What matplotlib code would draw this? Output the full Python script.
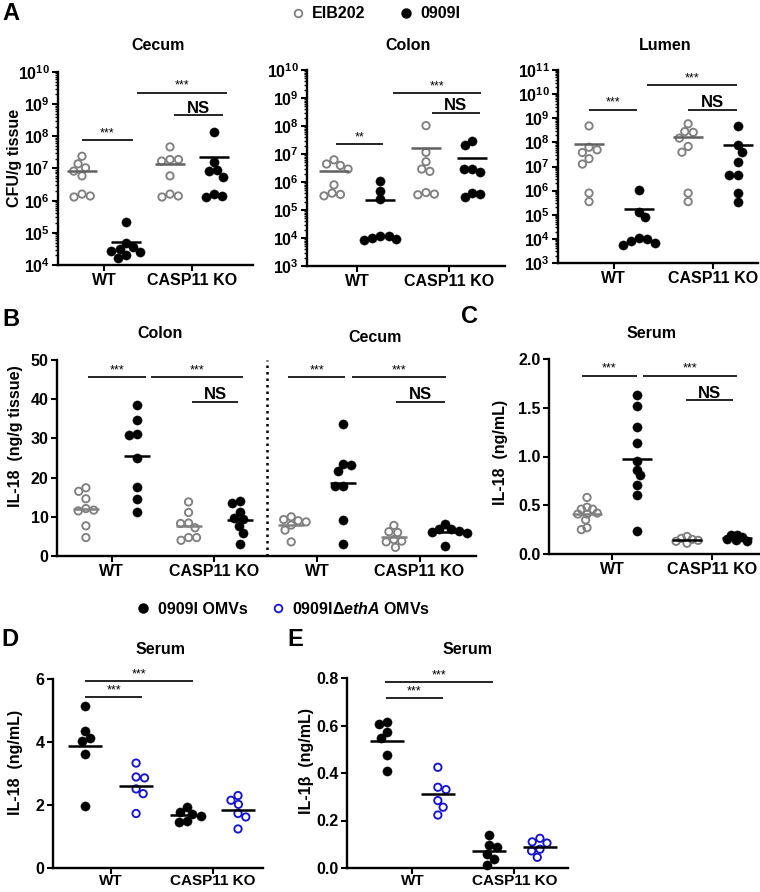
import numpy as np
import matplotlib
matplotlib.use('Agg')
import matplotlib.pyplot as plt
from matplotlib.lines import Line2D
from matplotlib.ticker import FixedLocator, NullFormatter, LogLocator

plt.rcParams['font.family'] = ['Liberation Sans', 'DejaVu Sans']
plt.rcParams['font.weight'] = 'bold'
plt.rcParams['mathtext.fontset'] = 'custom'
plt.rcParams['mathtext.rm'] = 'Liberation Sans:bold'
plt.rcParams['mathtext.bf'] = 'Liberation Sans:bold'
plt.rcParams['mathtext.it'] = 'Liberation Sans:italic:bold'

# ---------------- DATA ----------------
genotypes = ['WT', 'CASP11 KO']
strains_A = ['EIB202', '0909I']
strains_D = ['0909I OMVs', r'0909I$\mathit{\Delta ethA}$ OMVs']

# Panel A: CFU/g tissue
cecum_wt_eib = [2.4e7, 1.4e7, 1.05e7, 8.3e6, 5.9e6, 1.6e6, 1.3e6, 1.4e6]
cecum_wt_0909 = [2.1e5, 4.8e4, 3.5e4, 3.2e4, 2.8e4, 2.5e4, 2.0e4, 1.6e4]
cecum_ko_eib = [4.7e7, 1.9e7, 1.7e7, 1.9e7, 5.9e6, 1.6e6, 1.3e6, 1.4e6]
cecum_ko_0909 = [1.38e8, 1.55e7, 8.5e6, 8.9e6, 5.5e6, 1.6e6, 1.26e6, 1.4e6]

colon_wt_eib = [4.4e6, 2.9e6, 3.9e6, 6.2e6, 7.9e5, 4.0e5, 3.2e5, 3.6e5]
colon_wt_0909 = [1.1e6, 4.9e5, 2.4e5, 1.2e4, 1.0e4, 8.5e3, 9.0e3, 1.2e4]
colon_ko_eib = [1.03e8, 1.15e7, 5.3e6, 2.9e6, 2.4e6, 4.2e5, 3.5e5, 3.7e5]
colon_ko_0909 = [3.0e7, 2.05e7, 2.9e6, 2.9e6, 2.2e6, 4.2e5, 3.0e5, 3.6e5]

lumen_wt_eib = [4.8e8, 6.3e7, 3.8e7, 4.9e7, 2.1e7, 1.26e7, 7.9e5, 3.5e5]
lumen_wt_0909 = [1.07e6, 1.3e5, 8.0e4, 1.07e4, 7.9e3, 5.8e3, 6.8e3, 9.8e3]
lumen_ko_eib = [5.9e8, 2.8e8, 2.6e8, 1.5e8, 6.8e7, 3.9e7, 7.9e5, 3.5e5]
lumen_ko_0909 = [4.8e8, 7.9e7, 3.9e7, 1.6e7, 4.3e6, 4.3e6, 7.9e5, 3.5e5]

# Panel B: IL-18 (ng/g tissue)
b_colon_wt_eib = [16.5, 17.4, 14.6, 12.1, 11.5, 11.7, 7.7, 4.7]
b_colon_wt_0909 = [38.5, 34.8, 31.1, 30.8, 25.0, 17.6, 14.5, 11.2]
b_colon_ko_eib = [13.8, 11.1, 8.3, 8.4, 7.2, 4.7, 4.0, 4.7]
b_colon_ko_0909 = [14.0, 13.5, 11.3, 9.8, 9.4, 7.6, 5.8, 3.0]
b_cecum_wt_eib = [10.0, 9.3, 9.0, 8.7, 7.9, 6.6, 3.6]
b_cecum_wt_0909 = [33.6, 23.3, 23.4, 21.7, 17.8, 17.9, 9.1, 3.0]
b_cecum_ko_eib = [7.8, 6.2, 6.0, 4.2, 3.8, 3.6, 2.2]
b_cecum_ko_0909 = [8.2, 7.0, 6.8, 6.4, 6.0, 5.8, 2.6]

# Panel C: serum IL-18 (ng/mL)
c_wt_eib = [0.58, 0.48, 0.46, 0.46, 0.42, 0.41, 0.41, 0.35, 0.25, 0.27]
c_wt_0909 = [1.63, 1.52, 1.30, 1.135, 0.95, 0.86, 0.81, 0.71, 0.61, 0.24]
c_ko_eib = [0.18, 0.16, 0.15, 0.14, 0.13, 0.11]
c_ko_0909 = [0.19, 0.17, 0.15, 0.13, 0.14, 0.20]

# Panel D: serum IL-18 (ng/mL)
d_wt_0909 = [5.13, 4.36, 4.13, 4.03, 3.62, 1.97]
d_wt_deth = [3.33, 2.86, 2.89, 2.51, 2.36, 1.73]
d_ko_0909 = [1.94, 1.77, 1.73, 1.65, 1.45, 1.50]
d_ko_deth = [2.30, 2.15, 2.02, 1.73, 1.62, 1.24]

# Panel E: serum IL-1beta (ng/mL)
e_wt_0909 = [0.613, 0.605, 0.571, 0.546, 0.474, 0.407]
e_wt_deth = [0.424, 0.330, 0.340, 0.284, 0.256, 0.223]
e_ko_0909 = [0.139, 0.089, 0.096, 0.061, 0.038, 0.014]
e_ko_deth = [0.125, 0.110, 0.105, 0.079, 0.072, 0.045]

# ---------------- LAYOUT ----------------
W, H = 760, 892
fig = plt.figure(figsize=(W / 100, H / 100), dpi=100)

FS = 11.5
GREY = '#808080'
BLUE = '#1414d2'
OPEN_GREY = dict(s=28, facecolors='none', edgecolors=GREY, linewidths=1.35)
FILL_BLACK = dict(s=44, facecolors='black', edgecolors='black', linewidths=0.3)
OPEN_BLUE = dict(s=28, facecolors='none', edgecolors=BLUE, linewidths=1.35)


def add_ax(l, t, r, b):
    return fig.add_axes([l / W, 1 - b / H, (r - l) / W, (b - t) / H])


def style(ax, xpad=2):
    for s in ['top', 'right']:
        ax.spines[s].set_visible(False)
    for s in ['left', 'bottom']:
        ax.spines[s].set_linewidth(1.7)
    ax.tick_params(which='major', length=4, width=1.5, direction='out',
                   labelsize=FS, pad=2)
    ax.tick_params(axis='x', which='major', pad=xpad)
    ax.tick_params(which='minor', length=2.2, width=1.0, direction='out')


def px_per_data_x(ax):
    x0, x1 = ax.get_xlim()
    return ax.get_window_extent().width / (x1 - x0)


def swarm(ax, pos, vals, d=8.5):
    pts = ax.transData.transform(np.column_stack([np.full(len(vals), pos), vals]))
    ypx = pts[:, 1]
    order = np.argsort(-ypx, kind='stable')
    placed = []
    offs = np.zeros(len(vals))
    for k, i in enumerate(order):
        y = ypx[i]
        cands = [0.0]
        for xo, yo in placed:
            dy = abs(y - yo)
            if dy < d:
                dx = np.sqrt(d * d - dy * dy)
                cands += [xo + dx, xo - dx]
        cands = sorted(cands, key=lambda c: (round(abs(c), 3), c if k % 2 else -c))
        for c in cands:
            if all((c - xo) ** 2 + (y - yo) ** 2 >= d * d - 1e-6 for xo, yo in placed):
                offs[i] = c
                placed.append((c, y))
                break
    return offs / px_per_data_x(ax)


def plot_groups(ax, groups, styles, line_colors, hw_px=15, d=8.5):
    hw = hw_px / px_per_data_x(ax)
    for pos, (vals, st, lc) in enumerate(zip(groups, styles, line_colors)):
        vals = np.asarray(vals, dtype=float)
        offs = swarm(ax, pos, vals, d)
        ax.scatter(pos + offs, vals, zorder=3, clip_on=False, **st)
        m = vals.mean()
        ax.plot([pos - hw, pos + hw], [m, m], color=lc, lw=1.8, zorder=4,
                solid_capstyle='butt')


def sig(ax, x1, x2, y, label):
    ax.plot([x1, x2], [y, y], color='black', lw=1.2, clip_on=False,
            solid_capstyle='butt')
    if label == 'NS':
        ax.annotate(label, ((x1 + x2) / 2, y), xytext=(0, -0.5),
                    textcoords='offset points', ha='center', va='bottom',
                    fontsize=12, fontweight='bold', annotation_clip=False)
    else:
        ax.annotate(label, ((x1 + x2) / 2, y), xytext=(0, 0.5),
                    textcoords='offset points', ha='center', va='bottom',
                    fontsize=9, fontweight='normal', annotation_clip=False)


def ftext(x, y, s, **kw):
    return fig.text(x / W, 1 - y / H, s, **kw)


def log_axis(ax, lo, hi):
    ax.set_yscale('log')
    ax.set_ylim(10.0 ** lo, 10.0 ** hi)
    ax.yaxis.set_major_locator(FixedLocator([10.0 ** k for k in range(lo, hi + 1)]))
    ax.set_yticklabels([r'$\mathbf{10^{%d}}$' % k for k in range(lo, hi + 1)],
                       fontsize=FS)
    ax.yaxis.set_minor_locator(LogLocator(base=10, subs=np.arange(2, 10), numticks=100))
    ax.yaxis.set_minor_formatter(NullFormatter())


def title(x, y, s):
    ftext(x, y, s, ha='center', va='center', fontsize=FS, fontweight='bold')


def ylab(x, y, s):
    ftext(x, y, s, rotation=90, ha='center', va='center', fontsize=FS, fontweight='bold')


A_styles = [OPEN_GREY, FILL_BLACK, OPEN_GREY, FILL_BLACK]
A_lines = ['#606060', 'black', '#606060', 'black']

# ---- Panel A: Cecum ----
ax = add_ax(58, 72, 253, 265)
style(ax)
ax.set_xlim(-0.545, 3.886)
log_axis(ax, 4, 10)
ax.set_xticks([0.5, 2.5], genotypes)
plot_groups(ax, [cecum_wt_eib, cecum_wt_0909, cecum_ko_eib, cecum_ko_0909], A_styles, A_lines)
sig(ax, 0.0, 1.15, 7.6e7, '***')
sig(ax, 1.25, 3.3, 2.3e9, '***')
sig(ax, 2.1, 3.2, 4.6e8, 'NS')
h_open = Line2D([], [], marker='o', ls='none', mfc='none', mec=GREY, mew=1.3, ms=5.5)
h_fill = Line2D([], [], marker='o', ls='none', mfc='black', mec='black', ms=6.5)

# ---- Panel A: Colon ----
ax = add_ax(307, 70, 505, 266)
style(ax)
ax.set_xlim(-0.587, 3.717)
log_axis(ax, 3, 10)
ax.set_xticks([0.5, 2.5], genotypes)
plot_groups(ax, [colon_wt_eib, colon_wt_0909, colon_ko_eib, colon_ko_0909], A_styles, A_lines)
sig(ax, 0.04, 1.07, 2.3e7, '**')
sig(ax, 1.28, 3.2, 1.55e9, '***')
sig(ax, 2.13, 3.17, 3.0e8, 'NS')

# ---- Panel A: Lumen ----
ax = add_ax(558, 70, 758, 263)
style(ax)
ax.set_xlim(-0.626, 3.41)
log_axis(ax, 3, 11)
ax.set_xticks([0.5, 2.5], genotypes)
plot_groups(ax, [lumen_wt_eib, lumen_wt_0909, lumen_ko_eib, lumen_ko_0909], A_styles, A_lines)
sig(ax, 0.0, 0.97, 2.3e9, '***')
sig(ax, 1.17, 2.99, 2.4e10, '***')
sig(ax, 2.0, 2.99, 2.3e9, 'NS')

fig.legend([h_open, h_fill], strains_A, ncol=2, frameon=False, loc='center',
           bbox_to_anchor=(375 / W, 1 - 14 / H), handletextpad=0.4,
           columnspacing=2.0, handlelength=1.0, prop=dict(weight='bold', size=FS))

title(158, 45, 'Cecum')
title(408, 45, 'Colon')
title(665, 45, 'Lumen')
ylab(15, 158, 'CFU/g tissue')

# ---- Panel B ----
ax = add_ax(57, 360, 476, 556)
style(ax)
ax.set_xlim(-0.563, 7.6)
ax.set_ylim(0, 50)
ax.set_yticks([0, 10, 20, 30, 40, 50])
ax.set_yticklabels(['0', '10', '20', '30', '40', '50'], fontsize=FS)
ax.set_xticks([0.5, 2.5, 4.5, 6.5], genotypes * 2)
plot_groups(ax, [b_colon_wt_eib, b_colon_wt_0909, b_colon_ko_eib, b_colon_ko_0909,
                 b_cecum_wt_eib, b_cecum_wt_0909, b_cecum_ko_eib, b_cecum_ko_0909],
            A_styles * 2, [GREY, 'black', GREY, 'black'] * 2, hw_px=13, d=8.0)
ax.axvline(3.53, color='black', ls=(0, (1, 1.6)), lw=1.8)
sig(ax, 0.04, 1.17, 45.6, '***')
sig(ax, 1.26, 3.07, 45.6, '***')
sig(ax, 2.06, 2.97, 39.4, 'NS')
sig(ax, 3.94, 5.05, 45.6, '***')
sig(ax, 5.18, 7.01, 45.6, '***')
sig(ax, 6.04, 6.99, 39.4, 'NS')
title(160, 333, 'Colon')
title(375, 337, 'Cecum')
ylab(16, 436, 'IL-18  (ng/g tissue)')

# ---- Panel C ----
ax = add_ax(549, 359, 760, 554)
style(ax)
ax.set_xlim(-0.76, 3.46)
ax.set_ylim(0, 2.0)
ax.set_yticks([0, 0.5, 1.0, 1.5, 2.0])
ax.set_yticklabels(['0.0', '0.5', '1.0', '1.5', '2.0'], fontsize=FS)
ax.set_xticks([0.5, 2.5], genotypes)
plot_groups(ax, [c_wt_eib, c_wt_0909, c_ko_eib, c_ko_0909], A_styles,
            [GREY, 'black', 'black', 'black'], d=6.0)
sig(ax, -0.1, 1.0, 1.83, '***')
sig(ax, 1.12, 3.0, 1.83, '***')
sig(ax, 1.98, 2.92, 1.58, 'NS')
title(652, 333, 'Serum')
ylab(500, 452, 'IL-18  (ng/mL)')

# ---- Panel D ----
D_styles = [FILL_BLACK, OPEN_BLUE, FILL_BLACK, OPEN_BLUE]
ax = add_ax(53, 679, 263, 868)
style(ax, xpad=0.5)
ax.set_xlim(-0.63, 3.49)
ax.set_ylim(0, 6)
ax.set_yticks([0, 2, 4, 6])
ax.set_yticklabels(['0', '2', '4', '6'], fontsize=FS)
ax.set_xticks([0.5, 2.5], genotypes, fontsize=11)
plot_groups(ax, [d_wt_0909, d_wt_deth, d_ko_0909, d_ko_deth], D_styles, ['black'] * 4, hw_px=17)
sig(ax, 0.0, 2.12, 5.93, '***')
sig(ax, 0.0, 1.12, 5.42, '***')
title(161, 650, 'Serum')
ylab(16, 762, 'IL-18  (ng/mL)')

# ---- Panel E ----
ax = add_ax(347, 678, 568, 868)
style(ax, xpad=0.5)
ax.set_xlim(-0.78, 3.55)
ax.set_ylim(0, 0.8)
ax.set_yticks([0, 0.2, 0.4, 0.6, 0.8])
ax.set_yticklabels(['0.0', '0.2', '0.4', '0.6', '0.8'], fontsize=FS)
ax.set_xticks([0.5, 2.5], genotypes, fontsize=11)
plot_groups(ax, [e_wt_0909, e_wt_deth, e_ko_0909, e_ko_deth], D_styles, ['black'] * 4, hw_px=17)
sig(ax, -0.04, 2.08, 0.783, '***')
sig(ax, -0.02, 1.1, 0.716, '***')
title(468, 650, 'Serum')
ylab(307, 761, 'IL-1β  (ng/mL)')

h_fill2 = Line2D([], [], marker='o', ls='none', mfc='black', mec='black', ms=6.5)
h_blue = Line2D([], [], marker='o', ls='none', mfc='none', mec=BLUE, mew=1.3, ms=5.5)
fig.legend([h_fill2, h_blue], strains_D, ncol=2, frameon=False, loc='center',
           bbox_to_anchor=(283 / W, 1 - 609 / H), handletextpad=0.4,
           columnspacing=1.4, handlelength=1.0, prop=dict(weight='bold', size=FS))

# panel letters
for letter, x, y in [('A', 2, 2), ('B', 2, 308), ('C', 461, 305), ('D', 1, 628), ('E', 287, 628)]:
    ftext(x, y, letter, ha='left', va='top', fontsize=17, fontweight='bold')

fig.savefig('out.png', dpi=100)
